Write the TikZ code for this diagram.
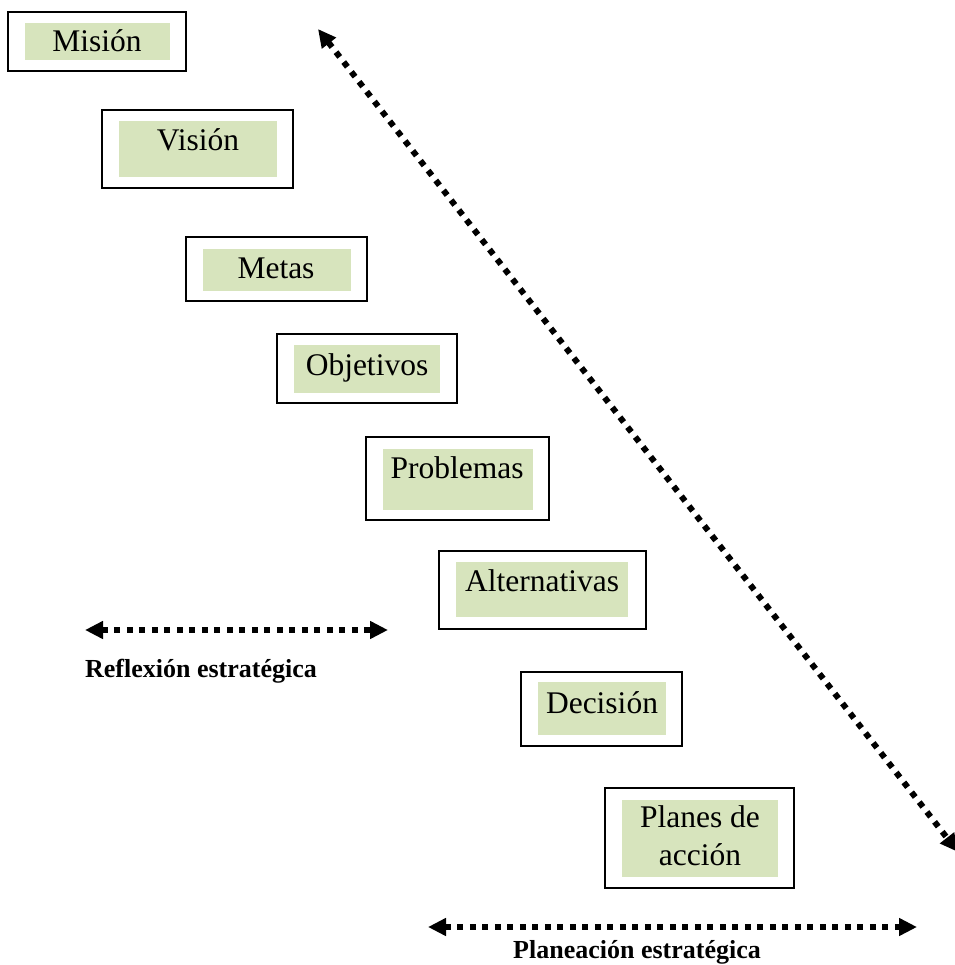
\documentclass[tikz,border=0pt]{standalone}
\usepackage{fontspec}
\setmainfont{Liberation Serif}
\usetikzlibrary{arrows.meta,fit}
\definecolor{olivelight}{HTML}{D7E4BD}
\tikzset{
  outerbox/.style={draw=black, line width=2pt, inner sep=0pt, fill=white},
  innerbox/.style={fill=olivelight, draw=none, inner sep=0pt},
  boxtext/.style={anchor=base, inner sep=0pt, font=\fontsize{31.5}{38}\selectfont, align=center},
  labeltext/.style={anchor=base, inner sep=0pt, font=\fontsize{26}{30}\selectfont\bfseries},
  dotarrow/.style={line width=6pt, dash pattern=on 6pt off 6.5pt,
    {Triangle[length=18pt,width=17pt]}-{Triangle[length=18pt,width=17pt]}}
}
\begin{document}
\begin{tikzpicture}[x=1pt,y=-1pt]
\useasboundingbox (0,0) rectangle (954,965);
% Misión
\node[outerbox, fit={(8,12)(186,71)}] (mision) {};
\node[innerbox, fit={(25,23)(170,60)}] (misionbg) {};
\node[boxtext] (misiont) at (97,52) {Misión};
% Visión
\node[outerbox, fit={(102,110)(293,188)}] (vision) {};
\node[innerbox, fit={(119,121)(277,177)}] (visionbg) {};
\node[boxtext] (visiont) at (198,151) {Visión};
% Metas
\node[outerbox, fit={(186,237)(367,301)}] (metas) {};
\node[innerbox, fit={(203,249)(351,291)}] (metasbg) {};
\node[boxtext] (metast) at (276,279) {Metas};
% Objetivos
\node[outerbox, fit={(277,334)(457,403)}] (objetivos) {};
\node[innerbox, fit={(294,345)(440,393)}] (objetivosbg) {};
\node[boxtext] (objetivost) at (367,375) {Objetivos};
% Problemas
\node[outerbox, fit={(366,437)(549,520)}] (problemas) {};
\node[innerbox, fit={(383,449)(533,510)}] (problemasbg) {};
\node[boxtext] (problemast) at (457,478) {Problemas};
% Alternativas
\node[outerbox, fit={(439,551)(646,629)}] (alternativas) {};
\node[innerbox, fit={(456,562)(628,617)}] (alternativasbg) {};
\node[boxtext] (alternativast) at (542,591) {Alternativas};
% Decisión
\node[outerbox, fit={(521,672)(682,746)}] (decision) {};
\node[innerbox, fit={(538,682)(666,735)}] (decisionbg) {};
\node[boxtext] (decisiont) at (602,713) {Decisión};
% Planes de acción
\node[outerbox, fit={(605,788)(794,888)}] (planes) {};
\node[innerbox, fit={(622,800)(778,877)}] (planesbg) {};
\node[boxtext] (planest1) at (700,827) {Planes de};
\node[boxtext] (planest2) at (700,865) {acción};
% arrows
\coordinate (diagA) at (318,29);
\coordinate (diagB) at (958,852);
\draw[dotarrow] (diagA) -- (diagB);
\coordinate (refA) at (85,630);
\coordinate (refB) at (388,630);
\draw[dotarrow] (refA) -- (refB);
\coordinate (plaA) at (428,927);
\coordinate (plaB) at (917,927);
\draw[dotarrow] (plaA) -- (plaB);
% labels
\node[labeltext] (reflexion) at (201,677) {Reflexión estratégica};
\node[labeltext] (planeacion) at (637,958) {Planeación estratégica};
\end{tikzpicture}
\end{document}
